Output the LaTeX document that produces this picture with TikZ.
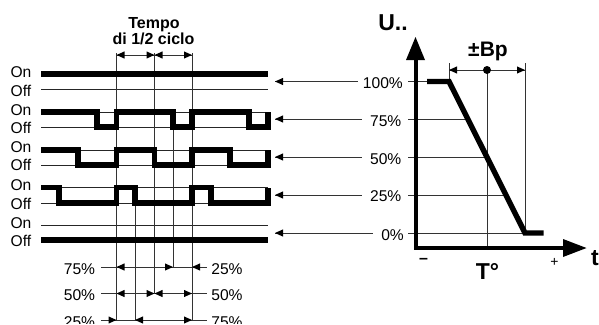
\documentclass[tikz,border=0pt]{standalone}
\usepackage{fontspec}
\setmainfont{Liberation Sans}
\usetikzlibrary{arrows.meta}
\newcommand{\fsz}[1]{\fontsize{#1pt}{#1pt}\selectfont}
% horizontal filled arrowhead: tip at (#1,#2), direction #3 = +1 right, -1 left
\newcommand{\htip}[3]{\fill[black] (#1,#2) -- ({#1-#3*8},#2-3.6) -- ({#1-#3*8},#2+3.6) -- cycle;}
\tikzset{
  thinl/.style={line width=0.9pt,black!85},
  thickl/.style={line width=5.6pt,black,line cap=butt,line join=miter},
  dim/.style={line width=0.8pt,black!80},
  lab/.style={inner sep=0pt,anchor=base,font=\fsz{15.6}},
  labe/.style={inner sep=0pt,anchor=base east,font=\fsz{15.6}},
  bold/.style={inner sep=0pt,anchor=base,font=\bfseries\fsz{16}},
  big/.style={inner sep=0pt,anchor=base,font=\bfseries\fsz{23}}
}
\begin{document}
\begin{tikzpicture}[x=1pt,y=-1pt]
\useasboundingbox (0,0) rectangle (599,324);
\clip (0,0) rectangle (599,323.4);
% thin on/off reference lines
\foreach \y in {89,112,127,150,165,187.5,203,225}
  \draw[thinl] (41,\y) -- (268,\y);
% verticals
\draw[dim] (116.5,53) -- (116.5,320);
\draw[dim] (154.5,53) -- (154.5,293.5);
\draw[dim] (192,53) -- (192,320);
\draw[dim] (173,127) -- (173,267);
\draw[dim] (135,203) -- (135,320);
% traces
\draw[thickl,line width=6pt] (41,74) -- (268,74);
\draw[thickl] (41,112) -- (97,112) -- (97,127) -- (116.5,127) -- (116.5,112) -- (173,112) -- (173,127) -- (192,127) -- (192,112) -- (249,112) -- (249,127) -- (268,127) -- (268,112);
\draw[thickl] (41,150) -- (78,150) -- (78,165) -- (116.5,165) -- (116.5,150) -- (154.5,150) -- (154.5,165) -- (192,165) -- (192,150) -- (230,150) -- (230,165) -- (268,165) -- (268,150);
\draw[thickl] (41,187.5) -- (59,187.5) -- (59,203) -- (116.5,203) -- (116.5,187.5) -- (135,187.5) -- (135,203) -- (192,203) -- (192,187.5) -- (211,187.5) -- (211,203) -- (268,203) -- (268,187.5);
\draw[thickl,line width=6pt] (41,240) -- (268,240);
% on/off labels
\foreach \a/\b in {77/96,115/133.3,152.7/170.7,190.7/209,228.3/246.7}{
  \node[lab] at (21,\a) {On};
  \node[lab] at (21,\b) {Off};
}
% top dimension
\node[bold] (tempo) at (154,28.3) {Tempo};
\node[bold] (mezzo) at (153.5,44) {di 1/2 ciclo};
\draw[dim] (116.5,55) -- (192,55);
\htip{116.5}{55}{-1}\htip{154.5}{55}{1}\htip{154.5}{55}{-1}\htip{192}{55}{1}
% bottom dimensions
\foreach \y in {267,293.5,320} \draw[dim] (101,\y) -- (207,\y);
\node[lab] (l75) at (79.5,274) {75\%};
\node[lab] (r25) at (227,274) {25\%};
\node[lab] (l50) at (79.5,300.7) {50\%};
\node[lab] (r50) at (227,300.7) {50\%};
\node[lab] (l25) at (79.5,327) {25\%};
\node[lab] (r75) at (227,327) {75\%};
\htip{116.5}{267}{-1}\htip{173}{267}{1}\htip{192}{267}{-1}
\htip{116.5}{293.5}{-1}\htip{154.5}{293.5}{1}\htip{154.5}{293.5}{-1}\htip{192}{293.5}{1}
\htip{116.5}{320}{1}\htip{135}{320}{-1}\htip{192}{320}{1}
% percent labels
\node[labe] (p100) at (403,88.3) {100\%};
\node[labe] (p75) at (401.5,126) {75\%};
\node[labe] (p50) at (401.5,164) {50\%};
\node[labe] (p25) at (401.5,201.7) {25\%};
\node[labe] (p0) at (404,240) {0\%};
\draw[dim] (275,81.5) -- (358,81.5);  \htip{275}{81.5}{-1}
\draw[dim] (275,119) -- (362,119);    \htip{275}{119}{-1}
\draw[dim] (275,157) -- (362,157);    \htip{275}{157}{-1}
\draw[dim] (275,195) -- (362,195);    \htip{275}{195}{-1}
\draw[dim] (275,233) -- (373,233);    \htip{275}{233}{-1}
% right plot levels
\draw[dim] (408,81.5) -- (430,81.5);
\draw[dim] (408,119) -- (466,119);
\draw[dim] (408,157) -- (486,157);
\draw[dim] (408,195) -- (506,195);
\draw[dim] (408,233) -- (525,233);
% band lines
\draw[dim] (449,63) -- (449,81);
\draw[dim] (487,70) -- (487,248);
\draw[dim] (525,63) -- (525,233);
\draw[dim] (449,70) -- (525,70);
\htip{449}{70}{-1}\htip{525}{70}{1}
\fill (487,70) circle (4pt);
% curve
\draw[line width=5.4pt,line join=miter] (427,81.5) -- (449,81.5) -- (525,233) -- (543.5,233);
% axes
\draw[line width=4pt,line join=miter] (415.5,58) -- (415.5,248) -- (565,248);
\fill (415.5,37) -- (425,60) -- (406,60) -- cycle;
\fill (586.5,248) -- (563,239) -- (563,257) -- cycle;
% plot labels
\node[big] (U) at (393,30) {U..};
\node[inner sep=0pt,anchor=base,font=\bfseries\fsz{21}] (Bp) at (488,56.7) {±Bp};
\node[big] (T) at (487.5,279) {T°};
\node[big] (t) at (595,265) {t};
\node[inner sep=0pt,font=\bfseries\fsz{16}] (minus) at (423.5,260.7) {–};
\node[inner sep=0pt,font=\fsz{14}] (plus) at (554.5,262.3) {+};
\end{tikzpicture}
\end{document}
